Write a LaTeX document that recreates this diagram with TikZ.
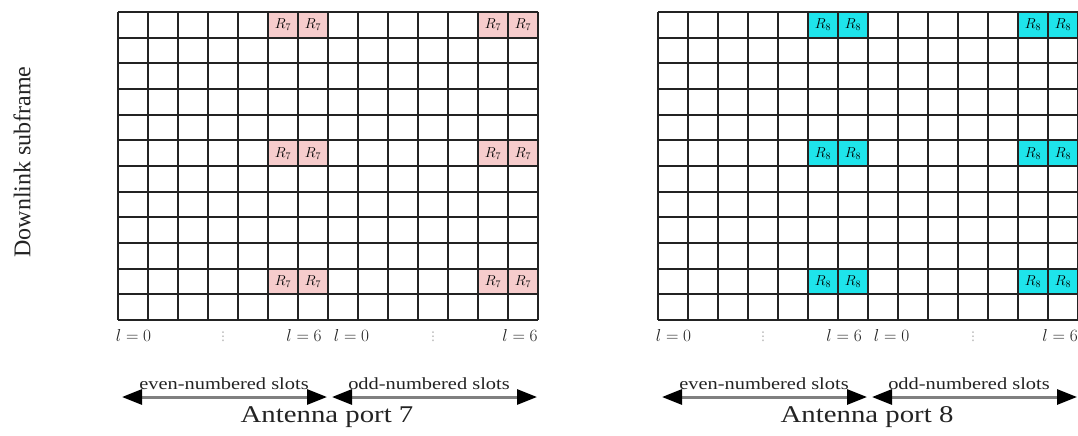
\documentclass[tikz,border=0pt]{standalone}
\usepackage{fontspec}
\setmainfont{Liberation Serif}
\newfontfamily\widefont[FakeStretch=1.2]{Liberation Serif}
\newfontfamily\symfont{DejaVu Sans}
\usetikzlibrary{arrows.meta}
\definecolor{pinkc}{RGB}{246,204,204}
\definecolor{cyanc}{RGB}{30,228,235}
\definecolor{inkc}{RGB}{35,35,35}
\tikzset{
  gridline/.style={draw=inkc, line width=1.7pt},
  rcell/.style={minimum width=30pt, minimum height=25.667pt, inner sep=0pt, outer sep=0pt,
    font=\fontsize{14}{14}\selectfont},
  idx/.style={inner sep=0pt, font=\fontsize{16}{16}\selectfont, text=inkc},
  dotsl/.style={inner sep=0pt, font=\symfont\fontsize{12}{12}\selectfont, text=black!35},
  slotlbl/.style={inner sep=0pt, font=\widefont\fontsize{17}{17}\selectfont, text=inkc},
  portlbl/.style={inner sep=0pt, font=\widefont\fontsize{24}{24}\selectfont, text=inkc},
  sidelbl/.style={inner sep=0pt, rotate=90, font=\fontsize{24}{24}\selectfont, text=inkc},
  slotarrow/.style={draw=black!50, line width=3pt,
    {Triangle[length=20pt,width=15pt,color=black]}-{Triangle[length=20pt,width=15pt,color=black]}}
}
\begin{document}
\begin{tikzpicture}[x=1pt,y=-1pt]
\useasboundingbox (0,0) rectangle (1078,436);
\node[sidelbl] (side) at (22,162) {Downlink subframe};
\foreach \ox/\c/\p in {118/pinkc/7, 658/cyanc/8} {
  % reference signal cells
  \foreach \col in {5,6,12,13} {
    \foreach \row in {0,5,10} {
      \node[rcell, fill=\c] (c-\p-\col-\row) at ({\ox+\col*30+15},{12+\row*25.667+12.833}) {$R_{\p}$};
    }
  }
  % grid
  \foreach \i in {0,...,14} {
    \draw[gridline] ({\ox+\i*30},12) -- ({\ox+\i*30},320);
  }
  \foreach \j in {0,...,12} {
    \draw[gridline] (\ox,{12+\j*25.667}) -- ({\ox+420},{12+\j*25.667});
  }
  % symbol index labels
  \node[idx] (a0-\p) at ({\ox+15.5},335) {$l = 0$};
  \node[dotsl] (d1-\p) at ({\ox+105},337) {⋮};
  \node[idx] (a6-\p) at ({\ox+186},335) {$l = 6$};
  \node[idx] (b0-\p) at ({\ox+233.5},335) {$l = 0$};
  \node[dotsl] (d2-\p) at ({\ox+315},337) {⋮};
  \node[idx] (b6-\p) at ({\ox+402},335) {$l = 6$};
  % slot arrows
  \coordinate (e1-\p) at ({\ox+4},397);
  \coordinate (e2-\p) at ({\ox+209},397);
  \coordinate (o1-\p) at ({\ox+214},397);
  \coordinate (o2-\p) at ({\ox+419},397);
  \draw[slotarrow] (e1-\p) -- (e2-\p);
  \draw[slotarrow] (o1-\p) -- (o2-\p);
  \node[slotlbl] (even-\p) at ({\ox+106},384) {even-numbered slots};
  \node[slotlbl] (odd-\p) at ({\ox+311},384) {odd-numbered slots};
  \node[portlbl] (port-\p) at ({\ox+209},417) {Antenna port \p};
}
\end{tikzpicture}
\end{document}
